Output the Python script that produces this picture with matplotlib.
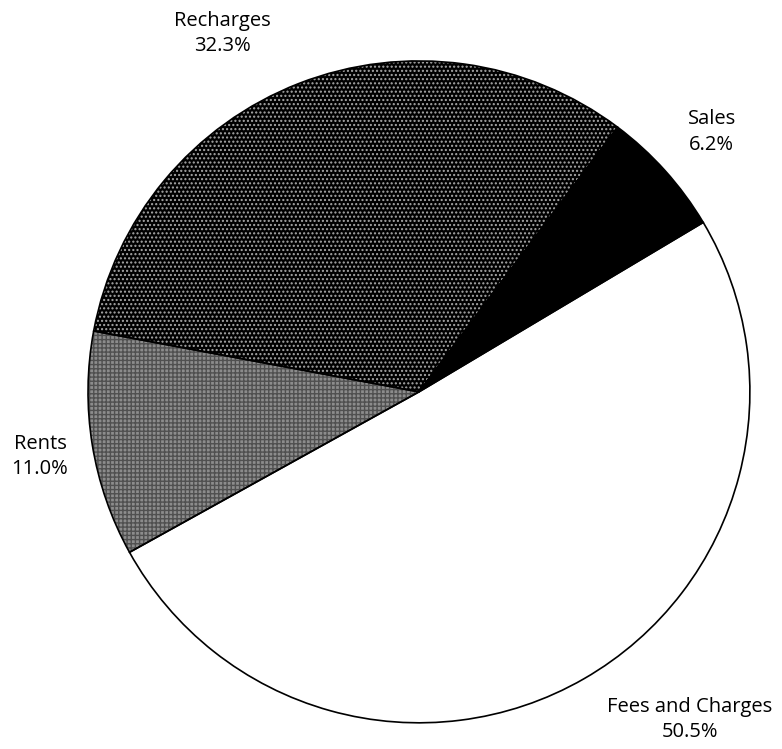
import matplotlib
matplotlib.use('Agg')
import matplotlib.pyplot as plt

plt.rcParams['font.family'] = ['Open Sans', 'DejaVu Sans']

labels = ['Fees and Charges', 'Rents', 'Recharges', 'Sales']
shares = [50.5, 11.0, 32.3, 6.2]
label_pos = [(0.819, -0.991), (-1.145, -0.196), (-0.595, 1.082), (0.885, 0.785)]

fig = plt.figure(figsize=(7.82, 7.49), dpi=100)
ax = fig.add_axes([0, 0, 1, 1])

# filled wedges, hatch colour comes from edgecolor so draw outlines separately
wedges, _ = ax.pie(shares, startangle=30.8, counterclock=False, radius=1.0,
                   wedgeprops=dict(linewidth=0))
styles = [
    dict(facecolor='white', edgecolor='white', hatch=None),
    dict(facecolor='#8c8c8c', edgecolor='#505050', hatch='++++'),
    dict(facecolor='black', edgecolor='#a8a8a8', hatch='....'),
    dict(facecolor='black', edgecolor='black', hatch=None),
]
for w, st in zip(wedges, styles):
    w.set_facecolor(st['facecolor'])
    w.set_edgecolor(st['edgecolor'])
    if st['hatch']:
        w.set_hatch(st['hatch'])

outl, _ = ax.pie(shares, startangle=30.8, counterclock=False, radius=1.0,
                 wedgeprops=dict(fill=False, edgecolor='black', linewidth=1.2))

for lab, val, (x, y) in zip(labels, shares, label_pos):
    ax.text(x, y, f'{lab}\n{val:.1f}%', ha='center', va='center', fontsize=14.5,
            linespacing=1.35)

ax.set_xlim(-1.266, 1.097)
ax.set_ylim(-1.079, 1.184)
ax.set_aspect('equal')
ax.axis('off')

fig.savefig('out.png', dpi=100)
